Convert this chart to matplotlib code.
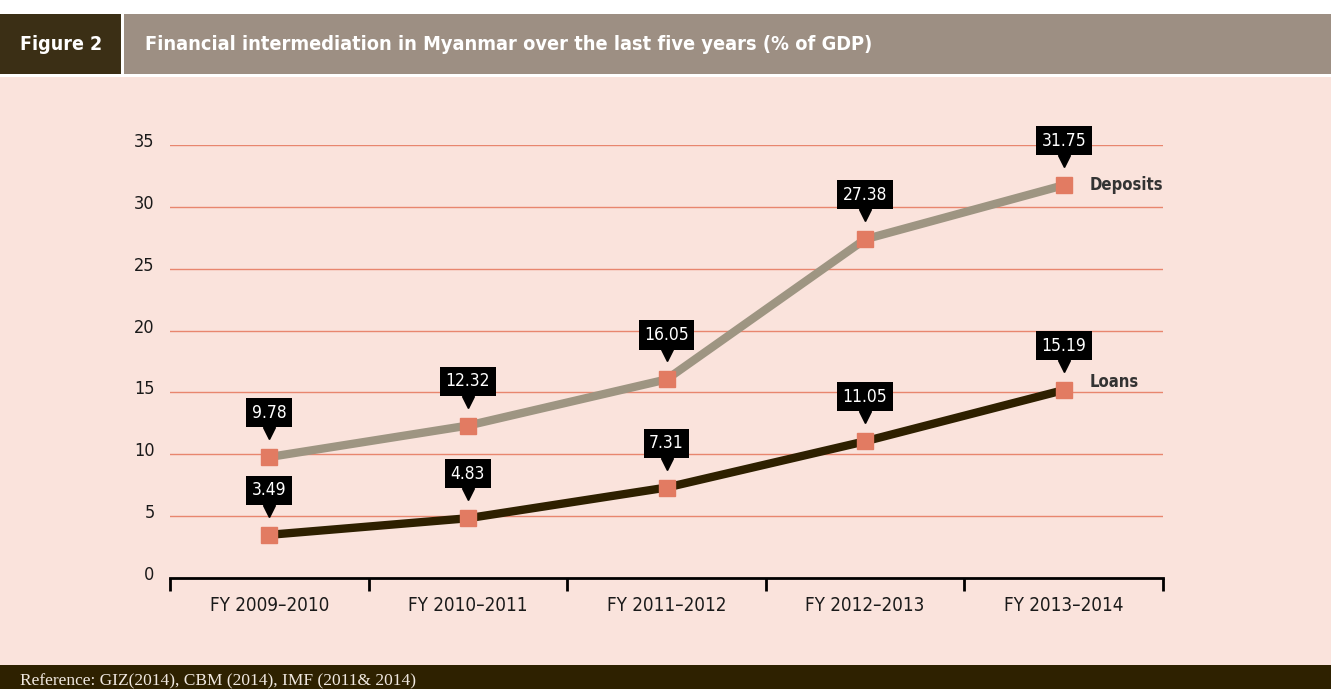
import matplotlib
matplotlib.use("Agg")
import matplotlib.pyplot as plt
from matplotlib.patches import Rectangle
from matplotlib.transforms import offset_copy, ScaledTranslation

categories = ["FY 2009\u20132010", "FY 2010\u20132011", "FY 2011\u20132012", "FY 2012\u20132013", "FY 2013\u20132014"]
deposits = [9.78, 12.32, 16.05, 27.38, 31.75]
loans = [3.49, 4.83, 7.31, 11.05, 15.19]
yticks = [0, 5, 10, 15, 20, 25, 30, 35]

PINK = "#FAE3DC"
GRID = "#E8866E"
DEP_C = "#9E9582"
LOAN_C = "#2E2000"
MARK_C = "#E27B62"
FONT = ["DejaVu Sans"]

W, H = 1331, 689
fig = plt.figure(figsize=(W / 100, H / 100), dpi=100)
fig.patch.set_facecolor("white")

# backgrounds
fig.add_artist(Rectangle((0, 24 / H), 1, (665 - 77) / H, transform=fig.transFigure, fc=PINK, ec="none", zorder=0))
fig.add_artist(Rectangle((0, 0), 1, 24 / H, transform=fig.transFigure, fc="#2E2100", ec="none", zorder=0))
fig.add_artist(Rectangle((0, (H - 74) / H), 121 / W, 60 / H, transform=fig.transFigure, fc="#3B2F15", ec="none", zorder=0))
fig.add_artist(Rectangle((124 / W, (H - 74) / H), 1, 60 / H, transform=fig.transFigure, fc="#9D8F83", ec="none", zorder=0))

fig.text(20 / W, (H - 44) / H, "Figure 2", color="white", fontsize=14, fontweight="bold",
         va="center", ha="left", family=FONT, fontstretch="condensed")
fig.text(145 / W, (H - 44) / H, "Financial intermediation in Myanmar over the last five years (% of GDP)",
         color="white", fontsize=14.3, fontweight="bold", va="center", ha="left", family=FONT, fontstretch="condensed")
fig.text(20 / W, 8 / H, "Reference: GIZ(2014), CBM (2014), IMF (2011& 2014)", color="#F0E8E0",
         fontsize=12.5, va="center", ha="left", family=["Liberation Serif"])

ax = fig.add_axes([170 / W, (H - 578) / H, (1163 - 170) / W, (578 - 145) / H])
ax.set_facecolor("none")
ax.set_xlim(-0.5, len(categories) - 0.5)
ax.set_ylim(0, 35)

for v in yticks[1:]:
    ax.axhline(v, color=GRID, lw=1, zorder=1)

x = list(range(len(categories)))
ax.plot(x, deposits, color=DEP_C, lw=6, zorder=3, solid_capstyle="butt")
ax.plot(x, loans, color=LOAN_C, lw=6, zorder=3, solid_capstyle="butt")
ax.plot(x, deposits, ls="none", marker="s", ms=12, color=MARK_C, zorder=4, clip_on=False)
ax.plot(x, loans, ls="none", marker="s", ms=12, color=MARK_C, zorder=4, clip_on=False)

tri = offset_copy(ax.transData, fig=fig, x=0, y=24, units="dots")
for series in (deposits, loans):
    ax.plot(x, series, ls="none", marker="v", ms=9, color="black", transform=tri, zorder=5, clip_on=False)
    for xi, v in zip(x, series):
        ax.annotate(f"{v:.2f}", (xi, v), xytext=(0, 32), textcoords="offset points",
                    ha="center", va="center", color="white", fontsize=12.5, family=FONT,
                    fontstretch="condensed", zorder=6, annotation_clip=False,
                    bbox=dict(boxstyle="square,pad=0.32", fc="black", ec="none"))

ax.annotate("Deposits", (4, deposits[-1]), xytext=(19, 0), textcoords="offset points",
            ha="left", va="center", fontsize=12, fontweight="bold", color="#333333",
            family=FONT, fontstretch="condensed", annotation_clip=False)
ax.annotate("Loans", (4, loans[-1]), xytext=(19, 6), textcoords="offset points",
            ha="left", va="center", fontsize=12, fontweight="bold", color="#333333",
            family=FONT, fontstretch="condensed", annotation_clip=False)

for s in ("top", "right", "left"):
    ax.spines[s].set_visible(False)
ax.spines["bottom"].set_color("black")
ax.spines["bottom"].set_linewidth(2)

ax.set_yticks(yticks)
ax.set_yticklabels([str(v) for v in yticks], family=FONT, fontstretch="condensed", fontsize=13, color="#1A1A1A")
ax.tick_params(axis="y", length=0, pad=11)
shift = ScaledTranslation(0, 5 / 100, fig.dpi_scale_trans)
for lab in ax.get_yticklabels():
    lab.set_transform(lab.get_transform() + shift)

ax.set_xticks([i - 0.5 for i in range(len(categories) + 1)])
ax.set_xticklabels([])
ax.tick_params(axis="x", which="major", length=9, width=2, color="black")
ax.set_xticks(x, minor=True)
ax.set_xticklabels(categories, minor=True, family=FONT, fontstretch="condensed", fontsize=13.5, color="#1A1A1A")
ax.tick_params(axis="x", which="minor", length=0, pad=13)

fig.savefig("out.png", dpi=100, facecolor=fig.get_facecolor())
